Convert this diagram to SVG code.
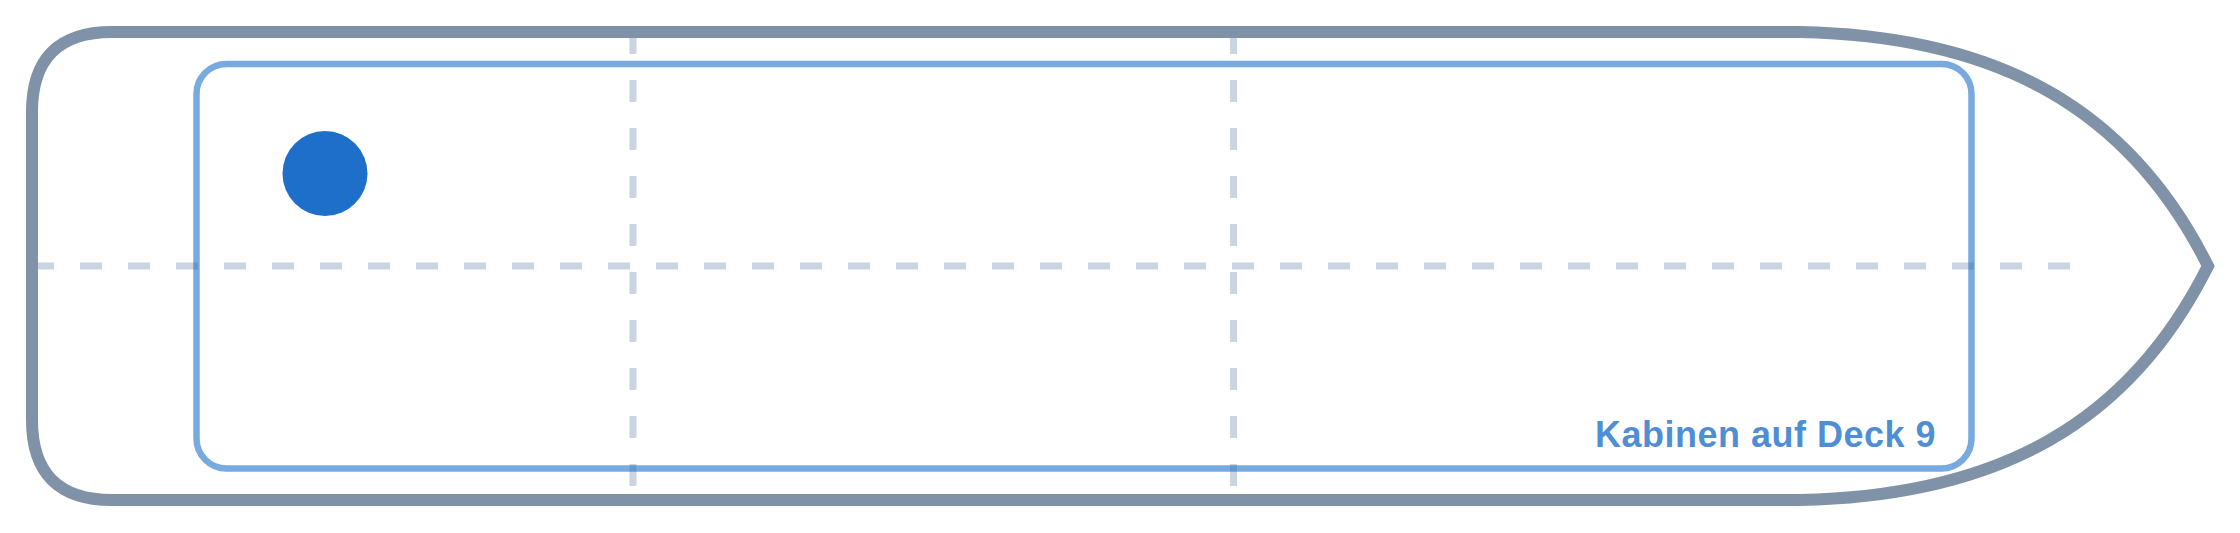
<svg xmlns="http://www.w3.org/2000/svg" width="2240" height="533" viewBox="0 0 2240 533">
  <style>
    .grid { fill: none; stroke: #cbd5e1; stroke-width: 7; stroke-dasharray: 22 26; }
    .hull { fill: none; stroke: #7f92a7; stroke-width: 12; stroke-linejoin: miter; }
    .deck { fill: none; stroke: #1e6fc9; stroke-opacity: 0.6; stroke-width: 6.5; }
    .marker { fill: #1e6fc9; }
    .label { font-family: "Liberation Sans", Arial, sans-serif; font-weight: bold; font-size: 36px; fill: #1e6fc9; fill-opacity: 0.8; letter-spacing: 0.5px; }
  </style>
  <rect width="2240" height="533" fill="#ffffff"/>
  <g id="connectors">
    <line class="grid" x1="32" y1="266" x2="2075" y2="266"/>
    <line class="grid" x1="633" y1="32" x2="633" y2="500"/>
    <line class="grid" x1="1233.5" y1="32" x2="1233.5" y2="500"/>
  </g>
  <g id="hull">
    <path class="hull" d="M 112 32 H 1800 C 2000 36, 2130 110, 2208 266 C 2130 422, 2000 496, 1800 500 H 112 Q 32 500 32 420 V 112 Q 32 32 112 32 Z"/>
  </g>
  <g id="deck9">
    <rect class="deck" x="196.5" y="64" width="1775" height="404.5" rx="30" ry="30"/>
    <text class="label" x="1595" y="447">Kabinen auf Deck 9</text>
  </g>
  <g id="cabin-marker">
    <circle class="marker" cx="325" cy="173.5" r="42.5"/>
  </g>
</svg>
